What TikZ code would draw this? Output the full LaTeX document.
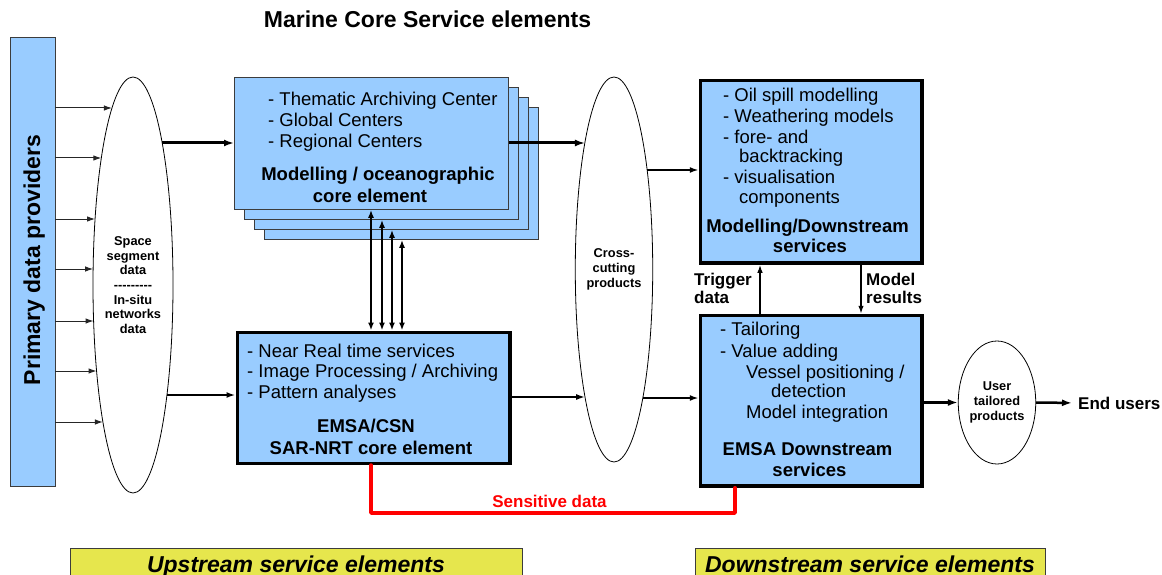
\documentclass[tikz,border=0pt]{standalone}
\usepackage{fontspec}
\setmainfont{Liberation Sans}
\usetikzlibrary{arrows.meta,shapes.geometric}
\definecolor{lblue}{RGB}{153,204,255}
\definecolor{ylw}{RGB}{230,230,77}
\definecolor{bord}{RGB}{60,60,60}
\definecolor{sred}{RGB}{255,0,0}
\tikzset{
 plain/.style={font=\fontsize{18.5}{21}\selectfont, inner sep=0, anchor=base west},
 head/.style={font=\fontsize{18.5}{21}\selectfont\bfseries, inner sep=0, anchor=base},
 lab/.style={font=\fontsize{17}{19}\selectfont\bfseries, inner sep=0, anchor=base west},
 stackbox/.style={draw=bord, line width=0.8pt, fill=lblue, anchor=north west, inner sep=0},
 thickbox/.style={draw=black, line width=3.5pt, fill=lblue, anchor=north west, inner sep=0},
 ell/.style={ellipse, draw=black, line width=0.8pt, fill=white, inner sep=0, align=center,
   font=\fontsize{12.8}{14.7}\selectfont\bfseries},
 thinarr/.style={draw=black!85, line width=1pt, -{Latex[length=8pt,width=5.5pt]}},
 medarr/.style={line width=2pt, -{Latex[length=9pt,width=6pt]}},
 bigarr/.style={line width=3pt, -{Latex[length=10pt,width=7pt]}},
 dblarr/.style={line width=2.8pt, {Latex[length=8pt,width=6pt]}-{Latex[length=8pt,width=6pt]}},
 redline/.style={draw=sred, line width=3.5pt, line join=round, line cap=round},
 ybox/.style={draw=bord, line width=1pt, fill=ylw, anchor=north west, inner sep=0},
 ytext/.style={font=\fontsize{23}{26}\selectfont\bfseries\itshape, inner sep=0, anchor=base},
}
\begin{document}
\begin{tikzpicture}[x=1pt,y=-1pt]
\clip (0,0) rectangle (1162,575);
\fill[white] (0,0) rectangle (1162,575);

% title
\node[font=\fontsize{23}{26}\selectfont\bfseries, inner sep=0, anchor=base] (title) at (427.5,28) {Marine Core Service elements};

% primary data providers bar
\node[draw=bord, line width=0.8pt, fill=lblue, anchor=north west, minimum width=45pt, minimum height=449pt, inner sep=0] (bar) at (9.5,37) {};
\node[font=\fontsize{23}{26}\selectfont\bfseries, inner sep=0, anchor=base, rotate=90] (bart) at (40,260) {Primary data providers};

% ellipses
\node[ell, minimum width=80pt, minimum height=416pt] (e1) at (133,285) {Space\\segment\\data\\{-}{-}{-}{-}{-}{-}{-}{-}{-}\\In-situ\\networks\\data};
\node[ell, minimum width=77pt, minimum height=385pt] (cross) at (614,269.5) {Cross-\\cutting\\products};
\node[ell, minimum width=68pt, minimum height=123pt] (user) at (997,402.5) {User\\tailored\\products};

% arrows from bar to ellipse
\foreach \yy in {108,158,219,269,321,371,422}{
  \pgfmathsetmacro\xx{133-40*sqrt(1-((\yy-285)/208)^2)}
  \draw[thinarr] (bar.east |- 0,\yy) -- (\xx,\yy);
}

% modelling / oceanographic stack
\foreach \i/\o in {3/30,2/20,1/10}
  \node[stackbox, minimum width=274pt, minimum height=132pt] (mod\i) at (234+\o,77+\o) {};
\node[stackbox, minimum width=274pt, minimum height=132pt] (mod) at (234,77) {};
\node[plain] (m1) at (268,106) {- Thematic Archiving Center};
\node[plain] (m2) at (268,127) {- Global Centers};
\node[plain] (m3) at (268,148) {- Regional Centers};
\node[head] (m4) at (378,180) {Modelling / oceanographic};
\node[head] (m5) at (370,202) {core element};

% EMSA/CSN box
\node[thickbox, minimum width=272.5pt, minimum height=131pt] (csn) at (235.5,330.5) {};
\node[plain] (c1) at (247,357) {- Near Real time services};
\node[plain] (c2) at (247,377.5) {- Image Processing / Archiving};
\node[plain] (c3) at (247,398) {- Pattern analyses};
\node[head] (c4) at (366,432) {EMSA/CSN};
\node[head] (c5) at (371,454) {SAR-NRT core element};

% Modelling/Downstream box
\node[thickbox, minimum width=221.5pt, minimum height=182.5pt] (mds) at (698.75,78.75) {};
\node[plain] (d1) at (723,102) {- Oil spill modelling};
\node[plain] (d2) at (723,122.5) {- Weathering models};
\node[plain] (d3) at (723,143) {- fore- and};
\node[plain] (d4) at (739,163) {backtracking};
\node[plain] (d5) at (723,183.5) {- visualisation};
\node[plain] (d6) at (739,204) {components};
\node[head] (d7) at (807.5,232) {Modelling/Downstream};
\node[head] (d8) at (810,252.5) {services};

% EMSA Downstream box
\node[thickbox, minimum width=221.5pt, minimum height=170.5pt] (eds) at (698.75,313.75) {};
\node[plain] (s1) at (720,335) {- Tailoring};
\node[plain] (s2) at (720,357) {- Value adding};
\node[plain] (s3) at (746,378) {Vessel positioning /};
\node[plain] (s4) at (771,397.5) {detection};
\node[plain] (s5) at (746,418) {Model integration};
\node[head] (s6) at (807.5,455) {EMSA Downstream};
\node[head] (s7) at (809.5,476) {services};

% horizontal flows
\pgfmathsetmacro\xa{133+40*sqrt(1-((143-285)/208)^2)}
\pgfmathsetmacro\xb{133+40*sqrt(1-((395-285)/208)^2)}
\pgfmathsetmacro\xc{614-38.5*sqrt(1-((143-269.5)/192.5)^2)}
\pgfmathsetmacro\xd{614+38.5*sqrt(1-((170-269.5)/192.5)^2)}
\pgfmathsetmacro\xe{614-38.5*sqrt(1-((397-269.5)/192.5)^2)}
\pgfmathsetmacro\xf{614+38.5*sqrt(1-((398-269.5)/192.5)^2)}
\coordinate (e1a) at (\xa,143);
\coordinate (e1b) at (\xb,395);
\coordinate (cra) at (\xc,143);
\coordinate (crb) at (\xd,170);
\coordinate (crc) at (\xe,397);
\coordinate (crd) at (\xf,398);
\draw[bigarr] (e1a) -- (mod.west |- e1a);
\draw[bigarr] (mod.east |- cra) -- (cra);
\draw[medarr] (crb) -- (mds.west |- crb);
\draw[medarr] (e1b) -- (csn.west |- e1b);
\draw[medarr] (csn.east |- crc) -- (crc);
\draw[medarr] (crd) -- (eds.west |- crd);

% vertical double arrows
\draw[dblarr] (mod.south -| 371,0) -- (csn.north -| 371,0);
\draw[dblarr] (mod1.south -| 382,0) -- (csn.north -| 382,0);
\draw[dblarr] (mod2.south -| 392,0) -- (csn.north -| 392,0);
\draw[dblarr] (mod3.south -| 402,0) -- (csn.north -| 402,0);

% trigger / model results
\draw[line width=1.5pt, -{Latex[length=8pt,width=5.5pt]}] (eds.north -| 760,0) -- (mds.south -| 760,0);
\draw[line width=1.5pt, -{Latex[length=8pt,width=5.5pt]}] (mds.south -| 861,0) -- (eds.north -| 861,0);
\node[lab] (tr1) at (694,285) {Trigger};
\node[lab] (tr2) at (694,303) {data};
\node[lab] (mr1) at (866,285) {Model};
\node[lab] (mr2) at (866,303) {results};

% to end users
\node[lab] (endu) at (1078,409) {End users};
\draw[bigarr] (eds.east |- user.west) -- (user.west);
\draw[line width=2.5pt, -{Latex[length=10pt,width=7pt]}] (user.east) -- ([xshift=-6pt]endu.west);

% sensitive data
\draw[redline] (csn.south -| 371,0) -- (371,513) -- (735,513) -- (eds.south -| 735,0);
\node[lab, text=sred, anchor=base] (sens) at (549.5,507) {Sensitive data};

% bottom labels
\node[ybox, minimum width=452pt, minimum height=40pt] (up) at (70,548) {};
\node[ytext] (upt) at (296,572) {Upstream service elements};
\node[ybox, minimum width=350pt, minimum height=40pt] (down) at (695,548) {};
\node[ytext] (downt) at (870,572) {Downstream service elements};
\end{tikzpicture}
\end{document}
